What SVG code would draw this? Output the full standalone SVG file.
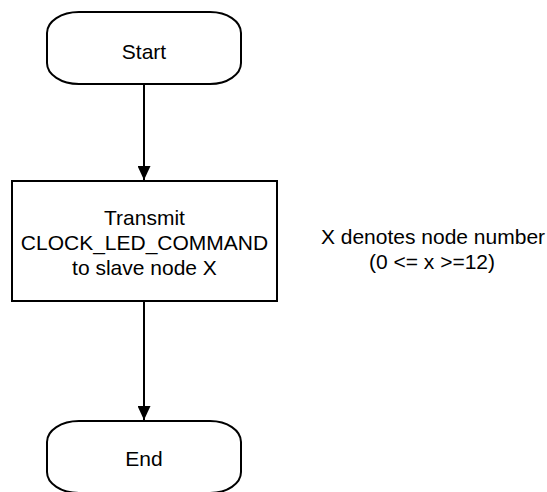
<svg xmlns="http://www.w3.org/2000/svg" width="547" height="492" viewBox="0 0 547 492">
  <style>
    .shape { fill: #ffffff; stroke: #000000; stroke-width: 2; }
    .edge { fill: none; stroke: #000000; stroke-width: 2; }
    .lbl { font-family: "Liberation Sans", Arial, sans-serif; font-size: 21px; fill: #000000; text-anchor: middle; }
  </style>
  <defs>
    <marker id="arrow" markerUnits="userSpaceOnUse" markerWidth="14" markerHeight="13" refX="14" refY="6.5" orient="auto">
      <path d="M0,0 L14,6.5 L0,13 z" fill="#000000"/>
    </marker>
  </defs>
  <rect width="547" height="492" fill="#ffffff"/>
  <g id="connectors">
    <line class="edge" x1="144" y1="84" x2="144" y2="180" marker-end="url(#arrow)"/>
    <line class="edge" x1="144" y1="301" x2="144" y2="420" marker-end="url(#arrow)"/>
  </g>
  <g id="start">
    <path class="shape" d="M79,12 H210 A31,21 0 0 1 241,33 V63 A31,21 0 0 1 210,84 H79 A32,21 0 0 1 47,63 V33 A32,21 0 0 1 79,12 Z"/>
    <text class="lbl" x="144" y="59">Start</text>
  </g>
  <g id="transmit">
    <rect class="shape" x="12" y="181" width="265" height="120"/>
    <text class="lbl" x="144.5" y="225">Transmit</text>
    <text class="lbl" x="144.5" y="250">CLOCK_LED_COMMAND</text>
    <text class="lbl" x="144.5" y="275">to slave node X</text>
  </g>
  <g id="end">
    <path class="shape" d="M79,421 H210 A31,21 0 0 1 241,442 V472 A31,21 0 0 1 210,493 H79 A32,21 0 0 1 47,472 V442 A32,21 0 0 1 79,421 Z"/>
    <text class="lbl" x="144" y="466">End</text>
  </g>
  <g id="note">
    <text class="lbl" x="433" y="244">X denotes node number</text>
    <text class="lbl" x="432" y="269">(0 &lt;= x &gt;=12)</text>
  </g>
</svg>
